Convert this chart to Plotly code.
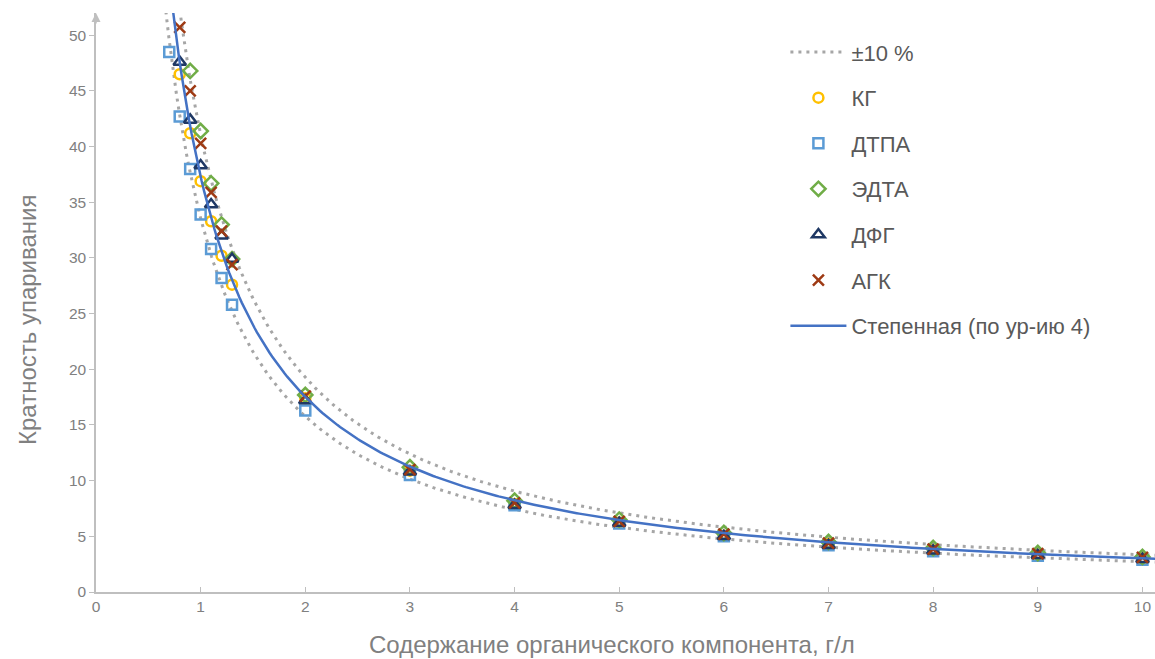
import numpy as np
import plotly.graph_objects as go

# ---- data ----
x_kg = [0.8, 0.9, 1.0, 1.1, 1.2, 1.3, 2, 3, 4, 5, 6, 7, 8, 9, 10]
y_kg = [46.5, 41.2, 36.9, 33.3, 30.2, 27.6, 17.4, 10.9, 7.9, 6.25, 5.05, 4.3, 3.75, 3.35, 3.0]

x_dtpa = [0.7, 0.8, 0.9, 1.0, 1.1, 1.2, 1.3, 2, 3, 4, 5, 6, 7, 8, 9, 10]
y_dtpa = [48.5, 42.7, 38.0, 33.9, 30.8, 28.2, 25.8, 16.3, 10.5, 7.8, 6.15, 5.0, 4.2, 3.65, 3.25, 2.9]

x_edta = [0.9, 1.0, 1.1, 1.2, 1.3, 2, 3, 4, 5, 6, 7, 8, 9, 10]
y_edta = [46.8, 41.4, 36.7, 33.0, 29.9, 17.7, 11.2, 8.2, 6.5, 5.3, 4.5, 3.95, 3.5, 3.15]

x_dfg = [0.8, 0.9, 1.0, 1.1, 1.2, 1.3, 2, 3, 4, 5, 6, 7, 8, 9, 10]
y_dfg = [47.6, 42.4, 38.3, 34.8, 32.0, 29.9, 17.2, 10.8, 7.8, 6.2, 5.0, 4.2, 3.7, 3.3, 2.95]

x_agk = [0.8, 0.9, 1.0, 1.1, 1.2, 1.3, 2, 3, 4, 5, 6, 7, 8, 9, 10]
y_agk = [50.7, 45.0, 40.3, 35.9, 32.4, 29.4, 17.6, 11.0, 8.0, 6.35, 5.2, 4.4, 3.85, 3.45, 3.1]

# power trendline y = A * x^B (equation 4), band +-10 %
FIT_A = 37.3
FIT_B = -1.09
BAND = 0.10
x_fit = np.linspace(0.6, 10.2, 400)
y_fit = FIT_A * x_fit ** FIT_B

x_ticks = list(range(0, 11))
y_ticks = list(range(0, 51, 5))

X_TITLE = "Содержание органического компонента, г/л"
Y_TITLE = "Кратность упаривания"

GRAY_TXT = "#808080"
AXIS_CLR = "#bfbfbf"
FONT = "Liberation Sans, Arial, sans-serif"

fig = go.Figure()

dot_line = dict(color="#a6a6a6", width=3, dash="3px,5px")
fig.add_trace(go.Scatter(x=x_fit, y=y_fit * (1 + BAND), mode="lines", line=dot_line,
                         name="±10 %", legendgroup="band"))
fig.add_trace(go.Scatter(x=x_fit, y=y_fit * (1 - BAND), mode="lines", line=dot_line,
                         name="±10 %", legendgroup="band", showlegend=False))

series = [
    ("КГ", x_kg, y_kg, "circle-open", "#FFC000", 10),
    ("ДТПА", x_dtpa, y_dtpa, "square-open", "#5B9BD5", 10),
    ("ЭДТА", x_edta, y_edta, "diamond-open", "#70AD47", 11),
    ("ДФГ", x_dfg, y_dfg, "triangle-up-open", "#1F3864", 11),
    ("АГК", x_agk, y_agk, "x-thin", "#9E3A14", 11),
]
for name, xs, ys, sym, col, sz in series:
    fig.add_trace(go.Scatter(
        x=xs, y=ys, mode="markers", name=name, legendgroup=name,
        marker=dict(symbol=sym, size=sz, color=col, line=dict(color=col, width=2.5)),
    ))

fig.add_trace(go.Scatter(x=x_fit, y=y_fit, mode="lines", name="Степенная (по ур-ию 4)",
                         legendgroup="fit", line=dict(color="#4472C4", width=2.5)))

fig.update_layout(
    width=1155, height=659,
    margin=dict(l=96, r=0, t=13, b=67),
    plot_bgcolor="white", paper_bgcolor="white",
    font=dict(family=FONT, color=GRAY_TXT),
    legend=dict(
        x=0.651, y=0.9685, xanchor="left", yanchor="top",
        font=dict(size=22, color="#595959", family=FONT),
        tracegroupgap=14, bgcolor="rgba(0,0,0,0)", itemwidth=56,
    ),
    xaxis=dict(
        range=[0, 10.12], tickvals=x_ticks, ticks="inside", ticklen=5,
        tickcolor=AXIS_CLR, showline=True, linecolor=AXIS_CLR, linewidth=1.5,
        showgrid=False, zeroline=False, tickfont=dict(size=15.5, color=GRAY_TXT),
    ),
    yaxis=dict(
        range=[0, 52], tickvals=y_ticks, ticks="outside", ticklen=5,
        tickcolor=AXIS_CLR, showline=True, linecolor=AXIS_CLR, linewidth=1.5,
        showgrid=False, zeroline=False, tickfont=dict(size=15.5, color=GRAY_TXT),
    ),
    showlegend=True,
)

# axis titles (positioned as in the reference, slightly off-centre)
fig.add_annotation(text=X_TITLE, xref="paper", yref="paper", x=0.4873, y=-0.0915,
                   xanchor="center", yanchor="middle", showarrow=False,
                   font=dict(size=24, color=GRAY_TXT, family=FONT))
fig.add_annotation(text=Y_TITLE, xref="paper", yref="paper", x=-0.0642, y=0.4698,
                   xanchor="center", yanchor="middle", showarrow=False, textangle=-90,
                   font=dict(size=24, color=GRAY_TXT, family=FONT))

fig.add_annotation(x=0, y=52, xref="x", yref="y", ax=0, ay=12, text="",
                   showarrow=True, arrowhead=2, arrowsize=1.2, arrowwidth=1.5,
                   arrowcolor=AXIS_CLR)

fig.write_html("out.html")
